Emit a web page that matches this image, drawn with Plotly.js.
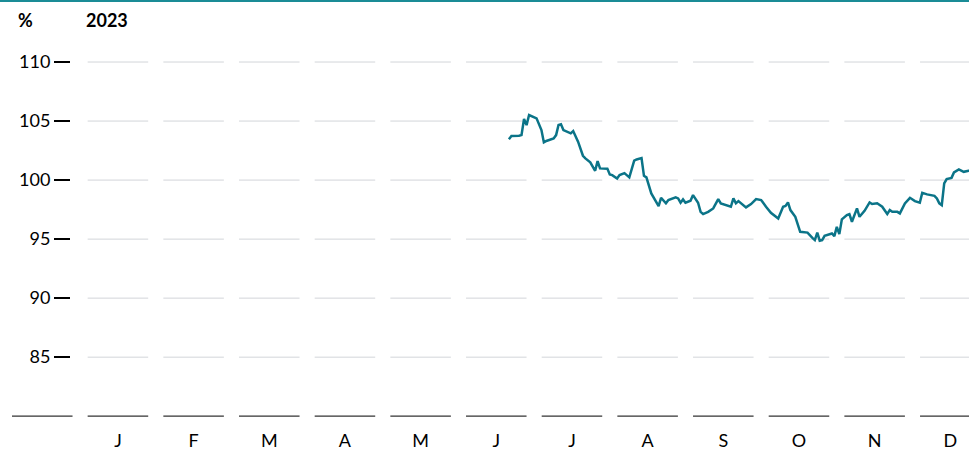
<!DOCTYPE html>
<html>
<head>
<meta charset="utf-8">
<script src="https://cdn.plot.ly/plotly-3.0.1.min.js"></script>
<style>
  html, body { margin: 0; padding: 0; background: #fff; }
  #chart { width: 969px; height: 450px; }
</style>
</head>
<body>
<div id="chart"></div>
<script>
// ---- data ----
const monthLabels = ['J', 'F', 'M', 'A', 'M', 'J', 'J', 'A', 'S', 'O', 'N', 'D'];
const gridValues = [85, 90, 95, 100, 105, 110];
const baseValue = 80;
const yearLabel = '2023';
const unitLabel = '%';

const dates = [
  '2023-06-21','2023-06-22','2023-06-25','2023-06-26','2023-06-27','2023-06-28','2023-06-29','2023-06-30',
  '2023-07-02','2023-07-04','2023-07-05','2023-07-06','2023-07-09','2023-07-10','2023-07-11','2023-07-12',
  '2023-07-13','2023-07-16','2023-07-17','2023-07-19','2023-07-21','2023-07-22','2023-07-24','2023-07-26',
  '2023-07-27','2023-07-28','2023-07-31',
  '2023-08-01','2023-08-02','2023-08-04','2023-08-05','2023-08-07','2023-08-09','2023-08-11','2023-08-12',
  '2023-08-14','2023-08-15','2023-08-16','2023-08-18','2023-08-21','2023-08-22','2023-08-24','2023-08-25',
  '2023-08-28','2023-08-29','2023-08-30','2023-08-31',
  '2023-09-01','2023-09-03','2023-09-04','2023-09-06','2023-09-07','2023-09-08','2023-09-10','2023-09-12',
  '2023-09-14','2023-09-15','2023-09-19','2023-09-20','2023-09-21','2023-09-22','2023-09-25','2023-09-27',
  '2023-09-29',
  '2023-10-01','2023-10-03','2023-10-05','2023-10-08','2023-10-10','2023-10-11','2023-10-12','2023-10-13',
  '2023-10-15','2023-10-17','2023-10-20','2023-10-22','2023-10-23','2023-10-24','2023-10-25','2023-10-26',
  '2023-10-27','2023-10-30','2023-10-31',
  '2023-11-01','2023-11-02','2023-11-03','2023-11-05','2023-11-06','2023-11-07','2023-11-09','2023-11-10',
  '2023-11-12','2023-11-14','2023-11-15','2023-11-17','2023-11-19','2023-11-21','2023-11-22','2023-11-23',
  '2023-11-25','2023-11-26','2023-11-28','2023-11-30',
  '2023-12-02','2023-12-04','2023-12-05','2023-12-07','2023-12-10','2023-12-11','2023-12-12','2023-12-13',
  '2023-12-14','2023-12-15','2023-12-17','2023-12-18','2023-12-20','2023-12-22','2023-12-24','2023-12-27'
];
const values = [
  103.45,103.73,103.75,103.81,105.17,104.66,105.51,105.42,
  105.23,104.24,103.19,103.31,103.53,103.81,104.66,104.72,
  104.24,103.96,104.15,103.25,102.06,101.84,101.50,100.79,
  101.61,100.99,100.97,
  100.47,100.42,100.14,100.42,100.59,100.23,101.64,101.75,
  101.86,100.36,100.23,98.87,97.80,98.50,98.03,98.31,
  98.53,98.45,98.08,98.36,
  98.08,98.25,98.73,98.08,97.31,97.12,97.31,97.60,
  98.39,98.03,97.74,98.45,98.03,98.22,97.69,97.97,
  98.39,
  98.31,97.74,97.23,96.75,97.74,97.80,98.11,97.46,
  96.89,95.62,95.55,95.11,94.92,95.55,94.87,94.92,
  95.28,95.48,95.25,
  96.04,95.42,96.67,97.03,97.12,96.47,97.60,96.89,
  97.40,98.11,97.97,98.03,97.74,97.12,97.46,97.31,
  97.31,97.18,98.03,98.50,
  98.22,98.08,98.92,98.79,98.67,98.45,98.03,97.88,
  99.72,100.08,100.19,100.65,100.91,100.70,100.79,100.80
];

// ---- month-unit scale: each month gets an equal-width slot (slot 0 = label column) ----
function toMonthUnits(s) {
  const p = s.split('-').map(Number);
  const dim = new Date(p[0], p[1], 0).getDate();
  return p[1] + (p[2] - 1) / dim;
}
const xs = dates.map(toMonthUnits);

const lineColor = '#0b7488';
const topColor = '#1a8c96';
const gridColor = '#d2d5d9';
const baseColor = '#333333';
const segGap = 0.1;

const shapes = [];
// top rule
shapes.push({type: 'line', xref: 'paper', yref: 'paper', x0: 0, x1: 1, y0: 0.9977, y1: 0.9977,
  line: {color: topColor, width: 2}, layer: 'above'});
// segmented gridlines (month slots 1..12)
for (let i = 1; i <= monthLabels.length; i++) {
  gridValues.forEach(v => {
    shapes.push({type: 'line', xref: 'x', yref: 'y', x0: i + segGap, x1: i + 1 - segGap, y0: v, y1: v,
      line: {color: gridColor, width: 1}, layer: 'below'});
  });
}
// segmented baseline (slots 0..12)
for (let i = 0; i <= monthLabels.length; i++) {
  shapes.push({type: 'line', xref: 'x', yref: 'y', x0: i + segGap, x1: i + 1 - segGap, y0: baseValue, y1: baseValue,
    line: {color: baseColor, width: 1.2}, layer: 'below'});
}

const trace = {
  type: 'scatter', mode: 'lines', x: xs, y: values,
  line: {color: lineColor, width: 2.5, shape: 'linear'},
  hoverinfo: 'skip'
};

const layout = {
  width: 969, height: 450,
  margin: {l: 0, r: 0, t: 0, b: 22.2, pad: 0},
  paper_bgcolor: '#ffffff', plot_bgcolor: '#ffffff',
  showlegend: false,
  font: {family: 'Lato, "Open Sans", sans-serif', size: 18, color: '#000'},
  xaxis: {
    range: [-0.0585, 12.747],
    tickmode: 'array',
    tickvals: monthLabels.map((m, i) => i + 1.5),
    ticktext: monthLabels,
    showgrid: false, zeroline: false, showline: false, ticks: '',
    tickfont: {family: 'Lato, sans-serif', size: 18, color: '#000'},
    fixedrange: true
  },
  yaxis: {
    range: [79, 115.254],
    anchor: 'free', position: 70 / 969, side: 'left',
    tickmode: 'array', tickvals: gridValues,
    ticks: 'outside', ticklen: 16, tickwidth: 1.5, tickcolor: '#000',
    showgrid: false, zeroline: false, showline: false,
    tickfont: {family: 'Lato, sans-serif', size: 18, color: '#000'},
    fixedrange: true
  },
  shapes: shapes,
  annotations: [
    {text: '<b>' + unitLabel + '</b>', xref: 'paper', yref: 'paper', x: 16 / 969, y: 1 - 20 / 427.8,
     xanchor: 'left', yanchor: 'middle', showarrow: false, font: {family: 'Lato, sans-serif', size: 18, color: '#000'}},
    {text: '<b>' + yearLabel + '</b>', xref: 'paper', yref: 'paper', x: 84 / 969, y: 1 - 20 / 427.8,
     xanchor: 'left', yanchor: 'middle', showarrow: false, font: {family: 'Lato, sans-serif', size: 18, color: '#000'}}
  ]
};

Plotly.newPlot('chart', [trace], layout, {displayModeBar: false, staticPlot: true});
</script>
</body>
</html>
